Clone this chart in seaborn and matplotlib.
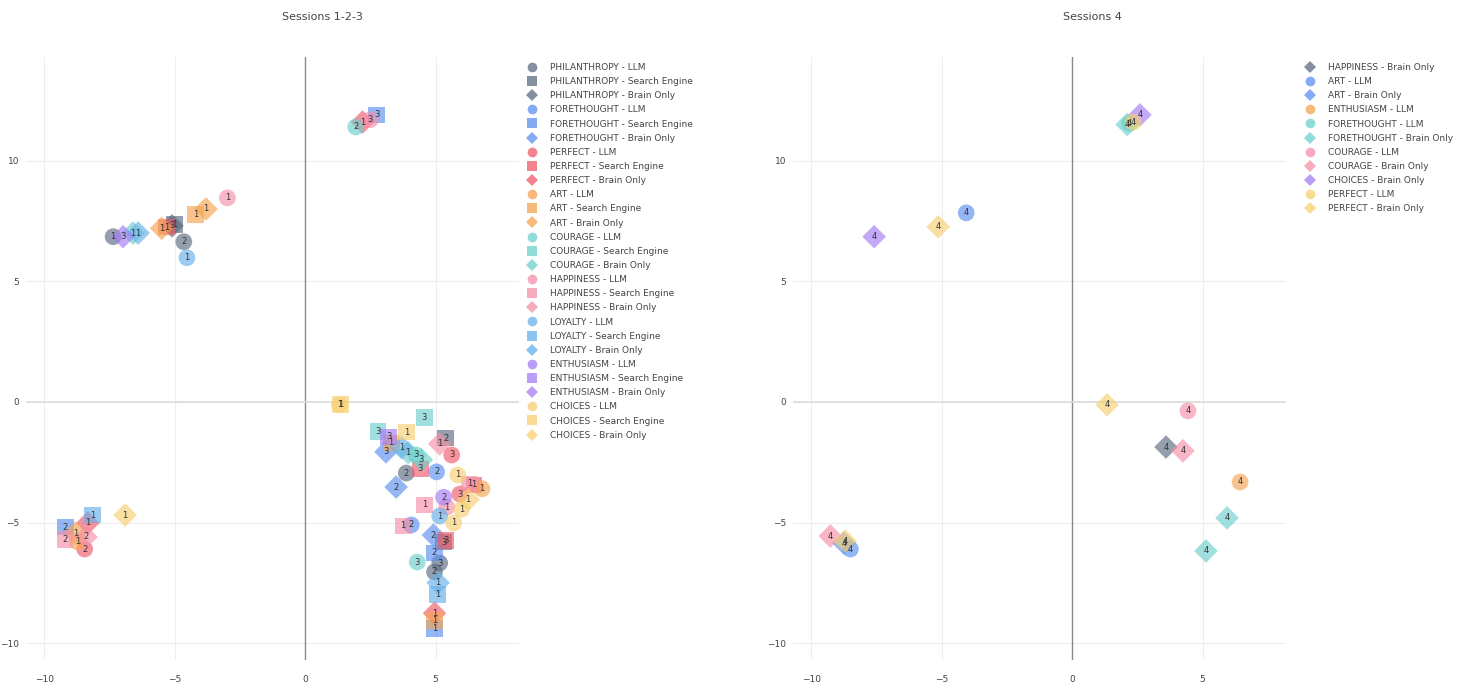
import matplotlib
matplotlib.use("Agg")
import matplotlib.pyplot as plt
import pandas as pd
import seaborn as sns
from matplotlib.lines import Line2D

# ---- Sessions 1-2-3: one entry per legend trace ----
TRACES_123 = [
    "PHILANTHROPY - LLM", "PHILANTHROPY - Search Engine", "PHILANTHROPY - Brain Only",
    "FORETHOUGHT - LLM", "FORETHOUGHT - Search Engine", "FORETHOUGHT - Brain Only",
    "PERFECT - LLM", "PERFECT - Search Engine", "PERFECT - Brain Only",
    "ART - LLM", "ART - Search Engine", "ART - Brain Only",
    "COURAGE - LLM", "COURAGE - Search Engine", "COURAGE - Brain Only",
    "HAPPINESS - LLM", "HAPPINESS - Search Engine", "HAPPINESS - Brain Only",
    "LOYALTY - LLM", "LOYALTY - Search Engine", "LOYALTY - Brain Only",
    "ENTHUSIASM - LLM", "ENTHUSIASM - Search Engine", "ENTHUSIASM - Brain Only",
    "CHOICES - LLM", "CHOICES - Search Engine", "CHOICES - Brain Only",
]
X_123 = [
    [-7.36, -4.65, 3.88, 5.16, 4.96], [5.39, 5.31, -5.0], [-5.1],
    [5.04, 4.07], [2.75, -9.19, 4.96, 4.96], [3.1, 3.49, 4.92],
    [5.62, 5.93, -8.45], [4.42, 6.47, -5.3, 5.4], [2.2, -8.33, 4.96],
    [-8.72, 6.78], [3.3, -4.19, 4.96], [-3.8, -5.5, -8.8],
    [1.94, 4.3, 4.26], [4.57, 2.79], [3.95, 4.46, -6.6],
    [-2.98, 2.5, 5.43], [4.57, 3.76, -9.2, 6.3], [5.16, -8.4],
    [-4.53, 5.16], [-8.14, 5.08], [-6.4, 5.1, 3.7],
    [5.31], [3.2], [-6.98],
    [5.85, 6.0, 5.7, 1.32], [3.9, 1.35], [-6.9, 6.25],
]
Y_123 = [
    [6.85, 6.64, -2.95, -6.68, -7.05], [-1.5, -5.81, 7.35], [7.3],
    [-2.9, -5.1], [11.9, -5.19, -6.26, -9.38], [-2.07, -3.53, -5.52],
    [-2.2, -3.82, -6.1], [-2.78, -3.44, 7.25, -5.75], [11.6, -5.02, -8.76],
    [-5.8, -3.6], [-1.7, 7.76, -9.05], [8.0, 7.2, -5.44],
    [11.4, -6.64, -2.2], [-0.66, -1.24], [-2.1, -2.4, 7.0],
    [8.46, 11.7, -4.36], [-4.27, -5.14, -5.7, -3.4], [-1.74, -5.6],
    [5.98, -4.73], [-4.69, -7.97], [7.0, -7.5, -1.9],
    [-3.95], [-1.45], [6.85],
    [-3.03, -4.45, -5.02, -0.12], [-1.25, -0.1], [-4.69, -4.05],
]
SESSION_123 = [
    ["1", "2", "2", "3", "2"], ["2", "3", "1"], ["3"],
    ["2", "2"], ["3", "2", "2", "1"], ["3", "2", "2"],
    ["3", "3", "2"], ["3", "1", "1", "3"], ["1", "1", "1"],
    ["1", "1"], ["1", "1", "1"], ["1", "1", "1"],
    ["2", "3", "3"], ["3", "3"], ["1", "3", "1"],
    ["1", "3", "1"], ["1", "1", "2", "1"], ["1", "2"],
    ["1", "1"], ["1", "1"], ["1", "1", "1"],
    ["2"], ["3"], ["3"],
    ["1", "1", "1", "1"], ["1", "1"], ["1", "1"],
]

# ---- Session 4 ----
TRACES_4 = [
    "HAPPINESS - Brain Only", "ART - LLM", "ART - Brain Only",
    "ENTHUSIASM - LLM", "FORETHOUGHT - LLM", "FORETHOUGHT - Brain Only",
    "COURAGE - LLM", "COURAGE - Brain Only", "CHOICES - Brain Only",
    "PERFECT - LLM", "PERFECT - Brain Only",
]
X_4 = [
    [3.6], [-4.06, -8.5], [-8.75],
    [6.44], [2.2], [5.94, 5.13, 2.11],
    [4.44], [4.25, -9.27], [-7.59, 2.6],
    [2.34], [-5.13, 1.34, -8.7],
]
Y_4 = [
    [-1.87], [7.84, -6.1], [-5.85],
    [-3.32], [11.55], [-4.81, -6.18, 11.5],
    [-0.37], [-2.03, -5.56], [6.85, 11.9],
    [11.6], [7.26, -0.12, -5.77],
]

COLORS_123 = {
    "PHILANTHROPY": "#5b6b80", "FORETHOUGHT": "#5b8ff0", "PERFECT": "#f05a6a",
    "ART": "#f5a350", "COURAGE": "#6dcfcc", "HAPPINESS": "#f590a8",
    "LOYALTY": "#66b0ea", "ENTHUSIASM": "#a57cf5", "CHOICES": "#f7d070",
}
COLORS_4 = {
    "HAPPINESS": "#5b6b80", "ART": "#5b8ff0", "ENTHUSIASM": "#f5a350",
    "FORETHOUGHT": "#6dcfcc", "COURAGE": "#f590a8", "CHOICES": "#a57cf5",
    "PERFECT": "#f7d070",
}
MARKERS = {"LLM": "o", "Search Engine": "s", "Brain Only": "D"}


def build_frame(traces, xs, ys, labels=None):
    rows = []
    for i, trace in enumerate(traces):
        topic, tool = trace.split(" - ")
        for j, (x, y) in enumerate(zip(xs[i], ys[i])):
            lab = labels[i][j] if labels else "4"
            rows.append(dict(trace=trace, topic=topic, tool=tool, x=x, y=y, label=lab))
    return pd.DataFrame(rows)


def draw_panel(ax, df, colors, traces, legend_xy, fig):
    ax.axvline(0, color="#8a8a8a", lw=1.0, zorder=1)
    ax.axhline(0, color="#dcdcdc", lw=1.2, zorder=1)
    sns.scatterplot(data=df, x="x", y="y", hue="topic", style="tool",
                    palette=colors, markers=MARKERS, s=145, alpha=0.65,
                    linewidth=0, legend=False, ax=ax, zorder=3)
    for _, r in df.iterrows():
        ax.text(r.x, r.y, r.label, ha="center", va="center", fontsize=6,
                color="#333333", zorder=4)
    ax.set_xlim(-10.7, 8.2)
    ax.set_ylim(-10.7, 14.3)
    ax.set_xticks([-10, -5, 0, 5])
    ax.set_yticks([-10, -5, 0, 5, 10])
    ax.set_xlabel("")
    ax.set_ylabel("")
    ax.grid(True, color="#eeeeee", lw=0.8)
    ax.set_axisbelow(True)
    for sp in ax.spines.values():
        sp.set_visible(False)
    ax.tick_params(length=0, labelsize=6.5, labelcolor="#444444")
    ax.tick_params(axis="x", pad=11)
    ax.tick_params(axis="y", pad=5)

    handles = []
    for t in traces:
        topic, tool = t.split(" - ")
        handles.append(Line2D([], [], marker=MARKERS[tool], linestyle="",
                              markersize=7 if tool != "Brain Only" else 6,
                              markerfacecolor=colors[topic], markeredgewidth=0,
                              alpha=0.75, label=t))
    fig.legend(handles=handles, loc="upper left", bbox_to_anchor=legend_xy,
               frameon=False, fontsize=6.5, labelcolor="#444444",
               handlelength=1.0, handletextpad=1.6, labelspacing=0.57,
               borderpad=0, borderaxespad=0)
    return ax


sns.set_style("white")
plt.rcParams["font.family"] = ["DejaVu Sans"]

W, H = 1470, 686
fig = plt.figure(figsize=(W / 100, H / 100), dpi=100)
ax1 = fig.add_axes([26 / W, 26 / H, 493 / W, 603 / H])
ax2 = fig.add_axes([793 / W, 26 / H, 493 / W, 603 / H])

df123 = build_frame(TRACES_123, X_123, Y_123, SESSION_123)
df4 = build_frame(TRACES_4, X_4, Y_4)

draw_panel(ax1, df123, COLORS_123, TRACES_123, (527 / W, 1 - 63 / H), fig)
draw_panel(ax2, df4, COLORS_4, TRACES_4, (1305 / W, 1 - 63 / H), fig)

fig.text(322 / W, 1 - 17 / H, "Sessions 1-2-3", ha="center", va="center",
         fontsize=8, color="#444444")
fig.text(1092 / W, 1 - 17 / H, "Sessions 4", ha="center", va="center",
         fontsize=8, color="#444444")

fig.savefig("out.png", dpi=100)
